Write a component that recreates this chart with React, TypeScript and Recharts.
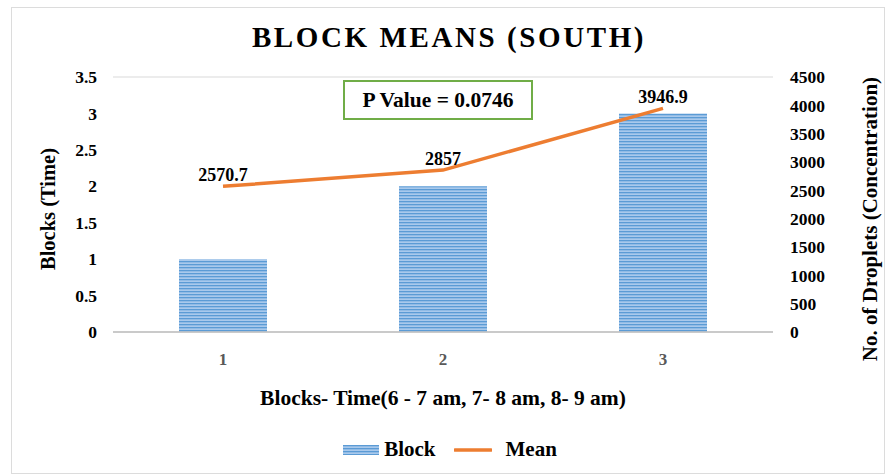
import {
  Bar,
  CartesianGrid,
  ComposedChart,
  LabelList,
  Line,
  XAxis,
  YAxis,
} from "recharts";

const BLOCKS = ["1", "2", "3"];
const BLOCK_VALUES = [1, 2, 3];
const MEAN_VALUES = [2570.7, 2857, 3946.9];
const LEFT_TICKS = [0, 0.5, 1, 1.5, 2, 2.5, 3, 3.5];
const RIGHT_TICKS = [0, 500, 1000, 1500, 2000, 2500, 3000, 3500, 4000, 4500];

const FONT = "'Liberation Serif', 'Times New Roman', serif";
const ORANGE = "#ed7d31";

const chartData = BLOCKS.map((name, i) => ({
  name,
  block: BLOCK_VALUES[i],
  mean: MEAN_VALUES[i],
}));

const tickStyle = { fontSize: 17.5, fontWeight: 700, fill: "#000", fontFamily: FONT };

export default function App() {
  return (
    <div
      style={{
        position: "absolute",
        left: 0,
        top: 0,
        width: 888,
        height: 476,
        background: "#fff",
        fontFamily: FONT,
      }}
    >
      {/* outer frame */}
      <div
        style={{
          position: "absolute",
          left: 11,
          top: 7,
          width: 872,
          height: 465,
          border: "1.5px solid #dcdcdc",
        }}
      />

      <div
        style={{
          position: "absolute",
          top: 21,
          left: 0,
          width: 898,
          textAlign: "center",
          fontSize: 29,
          fontWeight: 700,
          letterSpacing: 2.6,
          color: "#000",
        }}
      >
        BLOCK MEANS (SOUTH)
      </div>

      <ComposedChart
        width={888}
        height={476}
        data={chartData}
        margin={{ top: 77, right: 55, bottom: 114, left: 53 }}
        barCategoryGap="30%"
        style={{ position: "absolute", left: 0, top: 0 }}
      >
        <defs>
          <pattern id="stripes" width="4" height="3" patternUnits="userSpaceOnUse">
            <rect width="4" height="3" fill="#a9c9ec" />
            <rect width="4" height="1.3" fill="#5b9bd5" />
          </pattern>
        </defs>
        <CartesianGrid stroke="#d9d9d9" vertical={false} />
        <XAxis
          dataKey="name"
          height={30}
          tickLine={false}
          axisLine={{ stroke: "#bfbfbf", strokeWidth: 1.5 }}
          tickSize={0}
          tickMargin={21}
          tick={{ ...tickStyle, fontSize: 17, fill: "#595959" }}
          label={{
            content: () => (
              <text
                x={443}
                y={405}
                textAnchor="middle"
                fontSize={21.5}
                fontWeight={700}
                fontFamily={FONT}
                fill="#000"
              >
                Blocks- Time(6 - 7 am, 7- 8 am, 8- 9 am)
              </text>
            ),
          }}
        />
        <YAxis
          yAxisId="left"
          width={60}
          domain={[0, 3.5]}
          ticks={LEFT_TICKS}
          axisLine={false}
          tickLine={false}
          tickSize={0}
          tickMargin={16}
          tick={tickStyle}
          label={{
            content: () => (
              <text
                x={55}
                y={209}
                transform="rotate(-90 55 209)"
                textAnchor="middle"
                fontSize={20.5}
                fontWeight={700}
                fontFamily={FONT}
                fill="#000"
              >
                Blocks (Time)
              </text>
            ),
          }}
        />
        <YAxis
          yAxisId="right"
          orientation="right"
          width={60}
          domain={[0, 4500]}
          ticks={RIGHT_TICKS}
          axisLine={false}
          tickLine={false}
          tickSize={0}
          tickMargin={17}
          tick={tickStyle}
          label={{
            content: () => (
              <text
                x={877}
                y={219}
                transform="rotate(-90 877 219)"
                textAnchor="middle"
                fontSize={21}
                fontWeight={700}
                fontFamily={FONT}
                fill="#000"
              >
                No. of Droplets (Concentration)
              </text>
            ),
          }}
        />
        <Bar
          yAxisId="left"
          dataKey="block"
          fill="url(#stripes)"
          isAnimationActive={false}
        />
        <Line
          yAxisId="right"
          dataKey="mean"
          type="linear"
          stroke={ORANGE}
          strokeWidth={3.5}
          dot={false}
          activeDot={false}
          isAnimationActive={false}
        >
          <LabelList
            dataKey="mean"
            position="top"
            offset={5}
            style={{ fontSize: 18, fontWeight: 700, fill: "#000", fontFamily: FONT }}
          />
        </Line>
      </ComposedChart>

      {/* p value box */}
      <div
        style={{
          position: "absolute",
          left: 343,
          top: 80,
          width: 186,
          height: 36,
          border: "2px solid #70ad47",
          display: "flex",
          alignItems: "center",
          justifyContent: "center",
          fontSize: 21.5,
          fontWeight: 700,
          color: "#000",
        }}
      >
        P Value = 0.0746
      </div>

      {/* legend */}
      <div
        style={{
          position: "absolute",
          top: 437,
          left: 0,
          width: 900,
          display: "flex",
          justifyContent: "center",
          alignItems: "center",
          fontSize: 21,
          fontWeight: 700,
          color: "#000",
        }}
      >
        <svg width={36} height={10} style={{ marginRight: 5 }}>
          <defs>
            <pattern id="stripes-legend" width="4" height="3" patternUnits="userSpaceOnUse">
              <rect width="4" height="3" fill="#a9c9ec" />
              <rect width="4" height="1.3" fill="#5b9bd5" />
            </pattern>
          </defs>
          <rect width={36} height={10} fill="url(#stripes-legend)" />
        </svg>
        <span style={{ marginRight: 18 }}>Block</span>
        <svg width={38} height={10} style={{ marginRight: 14 }}>
          <line x1={1} y1={5} x2={37} y2={5} stroke={ORANGE} strokeWidth={3.5} strokeLinecap="round" />
        </svg>
        <span>Mean</span>
      </div>
    </div>
  );
}
